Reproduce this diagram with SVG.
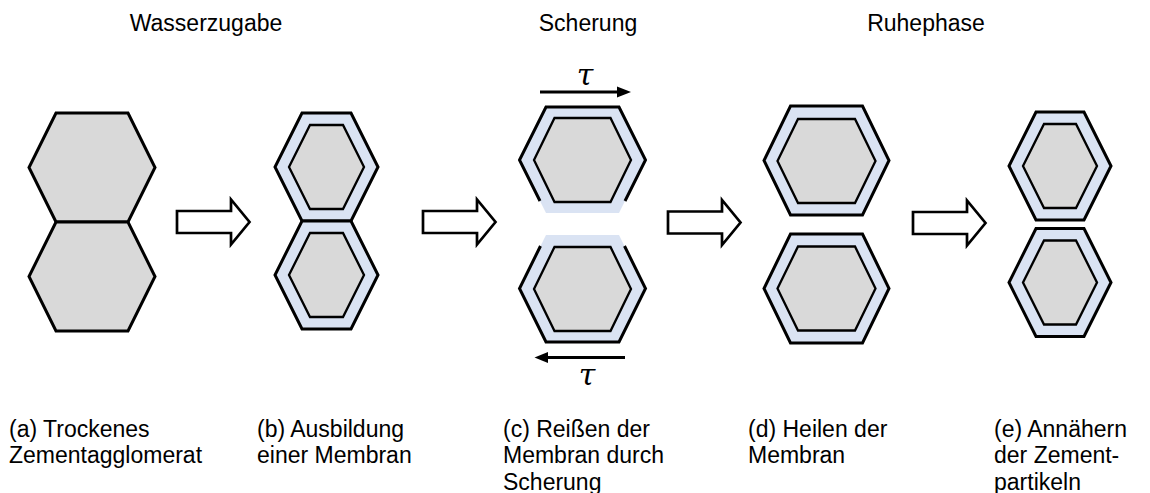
<svg xmlns="http://www.w3.org/2000/svg" width="1150" height="493" viewBox="0 0 1150 493">
  <style>
    .txt { font-family: "Liberation Sans", Arial, sans-serif; font-size: 23px; fill: #000; }
    .head { text-anchor: middle; }
    .tau { font-family: "DejaVu Serif", "Liberation Serif", serif; font-style: italic; font-size: 30px; text-anchor: middle; fill: #000; }
    .core { fill: #d9d9d9; stroke: #000; stroke-width: 3; stroke-linejoin: miter; }
    .shell { fill: #dae3f3; stroke: #000; stroke-width: 3; }
    .shell-open { fill: #dae3f3; stroke: none; }
    .rim { fill: none; stroke: #000; stroke-width: 3; }
    .inner { fill: #d9d9d9; stroke: #000; stroke-width: 2.3; }
    .block { fill: #fff; stroke: #000; stroke-width: 2.7; stroke-linejoin: miter; }
    .force { stroke: #000; stroke-width: 3; }
  </style>
  <defs>
    <path id="blockArrow" d="M0,-11 H54 V-22.5 L72.5,0 L54,22.5 V11 H0 Z"/>
  </defs>

  <rect width="1150" height="493" fill="#fff"/>

  <!-- phase headings -->
  <g id="headings" class="txt head">
    <text x="206" y="31">Wasserzugabe</text>
    <text x="588" y="31">Scherung</text>
    <text x="926" y="31">Ruhephase</text>
  </g>

  <!-- (a) dry agglomerate -->
  <g id="node-a">
    <polygon class="core" points="56,113 128,113 155,167.5 128,222 56,222 29,167.5"/>
    <polygon class="core" points="56,222 128,222 155,276.5 128,331 56,331 29,276.5"/>
  </g>

  <!-- (b) membrane formed -->
  <g id="node-b">
    <polygon class="shell" points="302,113 351,113 378,167 351,221 302,221 275,167"/>
    <polygon class="inner" points="310,125 343,125 364,167 343,209 310,209 289,167"/>
    <polygon class="shell" points="302,221 351,221 378,275 351,329 302,329 275,275"/>
    <polygon class="inner" points="310,233 343,233 364,275 343,317 310,317 289,275"/>
  </g>

  <!-- (c) membrane torn by shear -->
  <g id="node-c">
    <polygon class="shell-open" points="546,107 619,107 645.5,160 619,213 546,213 519.5,160"/>
    <polyline class="rim" points="540,201 519.5,160 546,107 619,107 645.5,160 625,201"/>
    <polygon class="inner" points="554.5,118 610.5,118 631,160 610.5,202 554.5,202 534,160"/>
    <polygon class="shell-open" points="546,235 619,235 645.5,288.5 619,342 546,342 519.5,288.5"/>
    <polyline class="rim" points="540.5,246 519.5,288.5 546,342 619,342 645.5,288.5 624.5,246"/>
    <polygon class="inner" points="554.5,247 610.5,247 631,289 610.5,331 554.5,331 534,289"/>
  </g>

  <!-- shear stress indicators -->
  <g id="shear">
    <line class="force" x1="540" y1="92" x2="619" y2="92"/>
    <polygon points="617,86.5 631,92 617,97.5" fill="#000"/>
    <text class="tau" x="585" y="85">τ</text>
    <line class="force" x1="546" y1="357.5" x2="625" y2="357.5"/>
    <polygon points="548,352 534.5,357.5 548,363" fill="#000"/>
    <text class="tau" x="587" y="385">τ</text>
  </g>

  <!-- (d) healed membrane -->
  <g id="node-d">
    <polygon class="shell" points="790.5,106 862.5,106 889,160.5 862.5,215 790.5,215 764,160.5"/>
    <polygon class="inner" points="798,119 855,119 875.5,161 855,203 798,203 777.5,161"/>
    <polygon class="shell" points="790.5,234 862.5,234 889,288.5 862.5,343 790.5,343 764,288.5"/>
    <polygon class="inner" points="798,246.5 855,246.5 875.5,288.5 855,330.5 798,330.5 777.5,288.5"/>
  </g>

  <!-- (e) particles approaching -->
  <g id="node-e">
    <polygon class="shell" points="1036,112 1084,112 1111,166 1084,220 1036,220 1009,166"/>
    <polygon class="inner" points="1044,124 1076,124 1097,166 1076,208 1044,208 1023,166"/>
    <polygon class="shell" points="1036,228.5 1084,228.5 1111,282.5 1084,336.5 1036,336.5 1009,282.5"/>
    <polygon class="inner" points="1044,240.5 1076,240.5 1097,282.5 1076,324.5 1044,324.5 1023,282.5"/>
  </g>

  <!-- step arrows between stages -->
  <g id="connectors" class="block">
    <use href="#blockArrow" transform="translate(177,222)"/>
    <use href="#blockArrow" transform="translate(423,222)"/>
    <use href="#blockArrow" transform="translate(668,222.5)"/>
    <use href="#blockArrow" transform="translate(913,223)"/>
  </g>

  <!-- stage captions -->
  <g id="captions" class="txt">
    <text x="9" y="436.5">(a) Trockenes</text>
    <text x="9" y="463">Zementagglomerat</text>
    <text x="257" y="436.5">(b) Ausbildung</text>
    <text x="257" y="463">einer Membran</text>
    <text x="503" y="436.5">(c) Reißen der</text>
    <text x="503" y="463">Membran durch</text>
    <text x="503" y="489.5">Scherung</text>
    <text x="748" y="436.5">(d) Heilen der</text>
    <text x="748" y="463">Membran</text>
    <text x="994" y="436.5">(e) Annähern</text>
    <text x="994" y="463">der Zement-</text>
    <text x="994" y="489.5">partikeln</text>
  </g>
</svg>
